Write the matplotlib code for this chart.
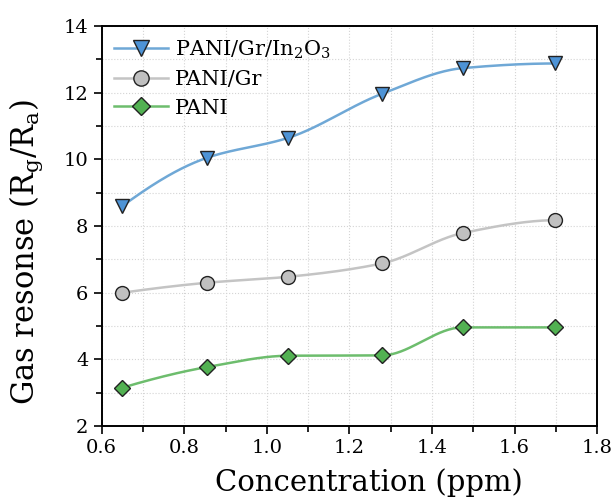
import numpy as np
import matplotlib
matplotlib.use("Agg")
import matplotlib.pyplot as plt
from matplotlib.ticker import MultipleLocator

plt.rcParams['font.family'] = ['DejaVu Serif']
plt.rcParams['mathtext.fontset'] = 'dejavuserif'

concentration = [0.65, 0.855, 1.052, 1.279, 1.474, 1.698]
pani_gr_in2o3 = [8.6, 10.05, 10.65, 11.97, 12.74, 12.88]
pani_gr = [6.0, 6.3, 6.48, 6.88, 7.79, 8.18]
pani = [3.15, 3.77, 4.11, 4.12, 4.96, 4.96]

labels = ['PANI/Gr/In$_2$O$_3$', 'PANI/Gr', 'PANI']
line_colors = ['#6fa8d6', '#c4c4c4', '#6dbd6d']
face_colors = ['#4d93d6', '#c0c0c0', '#52b152']
markers = ['v', 'o', 'D']


def smooth_line(x, y, n=200):
    # monotone cubic (PCHIP) only used to draw the connecting line
    x = np.asarray(x, float)
    y = np.asarray(y, float)
    h = np.diff(x)
    d = np.diff(y) / h
    m = len(x)
    s = np.zeros(m)
    for i in range(1, m - 1):
        if d[i - 1] * d[i] > 0:
            w1 = 2 * h[i] + h[i - 1]
            w2 = h[i] + 2 * h[i - 1]
            s[i] = (w1 + w2) / (w1 / d[i - 1] + w2 / d[i])
    s[0] = ((2 * h[0] + h[1]) * d[0] - h[0] * d[1]) / (h[0] + h[1])
    if s[0] * d[0] <= 0:
        s[0] = 0
    s[-1] = ((2 * h[-1] + h[-2]) * d[-1] - h[-1] * d[-2]) / (h[-1] + h[-2])
    if s[-1] * d[-1] <= 0:
        s[-1] = 0
    xs = np.linspace(x[0], x[-1], n)
    idx = np.clip(np.searchsorted(x, xs) - 1, 0, m - 2)
    t = (xs - x[idx]) / h[idx]
    hh = h[idx]
    h00 = 2 * t ** 3 - 3 * t ** 2 + 1
    h10 = t ** 3 - 2 * t ** 2 + t
    h01 = -2 * t ** 3 + 3 * t ** 2
    h11 = t ** 3 - t ** 2
    ys = h00 * y[idx] + h10 * hh * s[idx] + h01 * y[idx + 1] + h11 * hh * s[idx + 1]
    return xs, ys


fig = plt.figure(figsize=(6.14, 5.03), dpi=100)
ax = fig.add_axes([0.1656, 0.153, 0.807, 0.795])

for series, lab, lc, fc, mk in zip([pani_gr_in2o3, pani_gr, pani], labels, line_colors, face_colors, markers):
    size = 10 if mk != 'D' else 8.5
    xs, ys = smooth_line(concentration, series)
    ax.plot(xs, ys, color=lc, lw=1.8, zorder=2)
    ax.plot(concentration, series, ls='none', marker=mk, ms=size,
            mfc=fc, mec='#222222', mew=1.0, zorder=3)
    ax.plot([], [], color=lc, lw=1.8, marker=mk, ms=size + 1,
            mfc=fc, mec='#222222', mew=1.0, label=lab)

ax.set_xlim(0.6, 1.8)
ax.set_ylim(2, 14)
ax.xaxis.set_major_locator(MultipleLocator(0.2))
ax.xaxis.set_minor_locator(MultipleLocator(0.1))
ax.yaxis.set_major_locator(MultipleLocator(2))
ax.yaxis.set_minor_locator(MultipleLocator(1))
ax.set_xticks(ax.get_xticks())
ax.set_xticklabels([f"{v:.1f}" for v in ax.get_xticks()])
ax.set_xlim(0.6, 1.8)
ax.tick_params(which='both', direction='out', top=False, right=False, labelsize=14, width=1.2)
ax.tick_params(which='major', length=6)
ax.tick_params(which='minor', length=4)
ax.grid(which='both', color='#d4d4d4', ls=':', lw=0.8, zorder=0)
for s in ax.spines.values():
    s.set_linewidth(1.4)

ax.set_xlabel('Concentration (ppm)', fontsize=21)
ax.set_ylabel('Gas resonse (R$_\\mathrm{g}$/R$_\\mathrm{a}$)', fontsize=22)
ax.xaxis.set_label_coords(0.54, -0.105)
ax.yaxis.set_label_coords(-0.115, 0.435)

ax.legend(loc='upper left', frameon=False, fontsize=15, handlelength=2.6,
          handletextpad=0.3, labelspacing=0.45, borderaxespad=0.2)

fig.savefig('out.png', dpi=100)
